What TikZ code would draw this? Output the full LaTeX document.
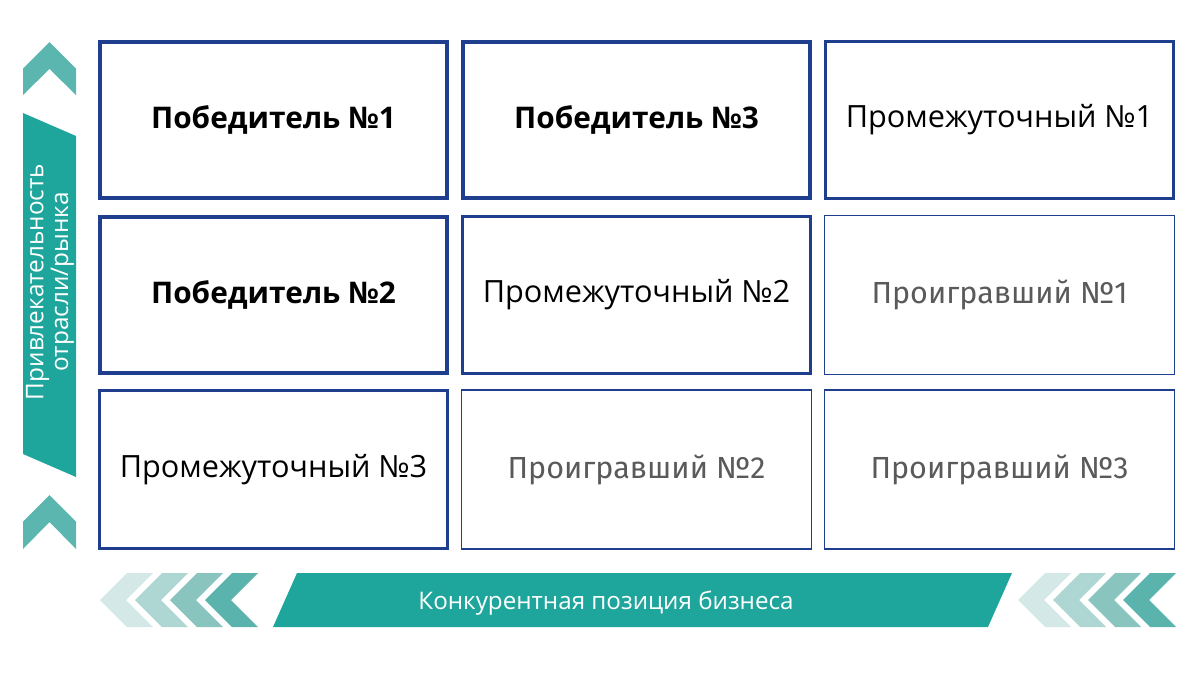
\documentclass[tikz,border=0pt]{standalone}
\usepackage{fontspec}
\setmainfont{Open Sans}
\newfontfamily\thinfont{Fira Sans}
\definecolor{gridblue}{HTML}{1F3F8E}
\definecolor{barteal}{HTML}{1EA69D}
\definecolor{arrowteal}{HTML}{5BB6AF}
\definecolor{chevA}{HTML}{D3E8E7}
\definecolor{chevB}{HTML}{AED6D2}
\definecolor{chevC}{HTML}{89C4BF}
\definecolor{chevD}{HTML}{5AB4AD}
\definecolor{losergray}{HTML}{5A5A5A}
\tikzset{
  cell/.style={draw=gridblue, fill=white, inner sep=0pt, align=center},
  winner/.style={cell, line width=0.1cm, minimum width=8.675cm, minimum height=3.9cm,
    font=\fontsize{21.2}{25}\selectfont\bfseries},
  middle/.style={cell, line width=0.075cm, minimum width=8.7cm, minimum height=3.925cm,
    font=\fontsize{21.8}{25}\selectfont},
  loser/.style={cell, line width=0.0375cm, minimum width=8.7375cm, minimum height=3.9625cm,
    text=losergray, font=\fontsize{21.7}{25}\thinfont},
}
\begin{document}
\begin{tikzpicture}[x=0.025cm, y=-0.025cm]
\useasboundingbox (0,0) rectangle (1200,678);
% the nine cells
\node[winner] (w1) at (273.5,120) {Победитель №1};
\node[winner] (w3) at (636.5,120) {Победитель №3};
\node[middle] (m1) at (999.5,120) {Промежуточный №1};
\node[winner] (w2) at (273.5,295) {Победитель №2};
\node[middle] (m2) at (636.5,295) {Промежуточный №2};
\node[loser] (l1) at (999.5,295) {Проигравший №1};
\node[middle] (m3) at (273.5,469.5) {Промежуточный №3};
\node[loser] (l2) at (636.5,469.5) {Проигравший №2};
\node[loser] (l3) at (999.5,469.5) {Проигравший №3};
% vertical axis
\fill[arrowteal] (49.5,42) -- (76,68.5) -- (76,95) -- (49.5,69) -- (23,95) -- (23,68.5) -- cycle;
\fill[barteal] (23,113) -- (76,136) -- (76,477) -- (23,454) -- cycle;
\fill[arrowteal] (49.5,495) -- (76,521.5) -- (76,549) -- (49.5,522) -- (23,549) -- (23,521.5) -- cycle;
\node[rotate=90, align=center, text=white, font=\fontsize{17.3}{17.5}\selectfont] (ylabel) at (50,282)
  {Привлекательность\\отрасли/рынка};
% horizontal axis
\fill[barteal] (297,573) -- (1012,573) -- (988,627) -- (273,627) -- cycle;
\node[text=white, font=\fontsize{17.2}{20}\selectfont] (xlabel) at (606,603) {Конкурентная позиция бизнеса};
\foreach \tip/\col in {0/chevA, 1/chevB, 2/chevC, 3/chevD} {
  \foreach \start in {100, 1018} {
    \fill[\col] ({\start+35*\tip},600) -- ++(27,-27) -- ++(26,0) -- ++(-27,27) -- ++(27,27) -- ++(-26,0) -- cycle;
  }
}
\end{tikzpicture}
\end{document}
